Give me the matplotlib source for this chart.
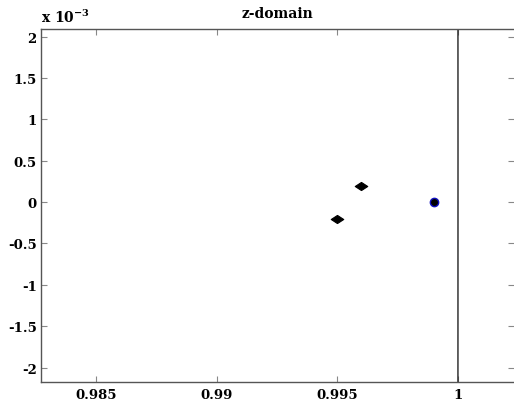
import numpy as np
import matplotlib
matplotlib.use('Agg')
import matplotlib.pyplot as plt
from matplotlib.path import Path

# pole / zero locations
pole_re = [0.995, 0.996]
pole_im = [-0.2e-3, 0.2e-3]
zero_re = [0.999]
zero_im = [0.0]

xticks = [0.985, 0.99, 0.995, 1.0]
xtick_labels = ['0.985', '0.99', '0.995', '1']
yticks = [2, 1.5, 1, 0.5, 0, -0.5, -1, -1.5, -2]

plt.rcParams['font.family'] = ['DejaVu Serif']
plt.rcParams['font.weight'] = 'bold'
plt.rcParams['mathtext.fontset'] = 'dejavuserif'

fig = plt.figure(figsize=(5.14, 4.02), dpi=100)
ax = fig.add_axes([41 / 514, 19 / 402, 473 / 514, 353 / 402])

# unit circle
theta = np.linspace(-np.pi, np.pi, 20001)
ax.plot(np.cos(theta), np.sin(theta), color='#222222', lw=1)

# squashed diamond, the blob the poles render as
blob = Path([(-1, 0), (0, 0.65), (1, 0), (0, -0.65), (-1, 0)],
            [Path.MOVETO, Path.LINETO, Path.LINETO, Path.LINETO, Path.CLOSEPOLY])
ax.plot(pole_re, pole_im, linestyle='none', marker=blob, ms=9, mew=0.8,
        color='black')
ax.plot(zero_re, zero_im, linestyle='none', marker='o', ms=6, mfc='black',
        mec='#1010c0', mew=1)

ax.set_xlim(0.98272, 1.00232)
ax.set_ylim(-2.175e-3, 2.093e-3)
ax.set_xticks(xticks)
ax.set_xticklabels(xtick_labels)
ax.set_yticks([v * 1e-3 for v in yticks])
ax.set_yticklabels(['%g' % v for v in yticks])
ax.tick_params(direction='in', length=4, width=0.8, color='#888888',
               top=True, right=True, labelsize=9.5)
ax.tick_params(axis='x', pad=4.5)
ax.tick_params(axis='y', pad=3)
for lab in ax.get_xticklabels() + ax.get_yticklabels():
    lab.set_fontweight('bold')
for name, sp in ax.spines.items():
    sp.set_color('#555555')
    sp.set_linewidth(1)
ax.spines['right'].set_visible(False)

ax.set_title('z-domain', fontsize=10, fontweight='bold', pad=9)
ax.text(0.0, 1.012, r'$\mathbf{x\ 10^{-3}}$', transform=ax.transAxes,
        fontsize=10, ha='left', va='bottom')

fig.savefig('out.png', dpi=100)
